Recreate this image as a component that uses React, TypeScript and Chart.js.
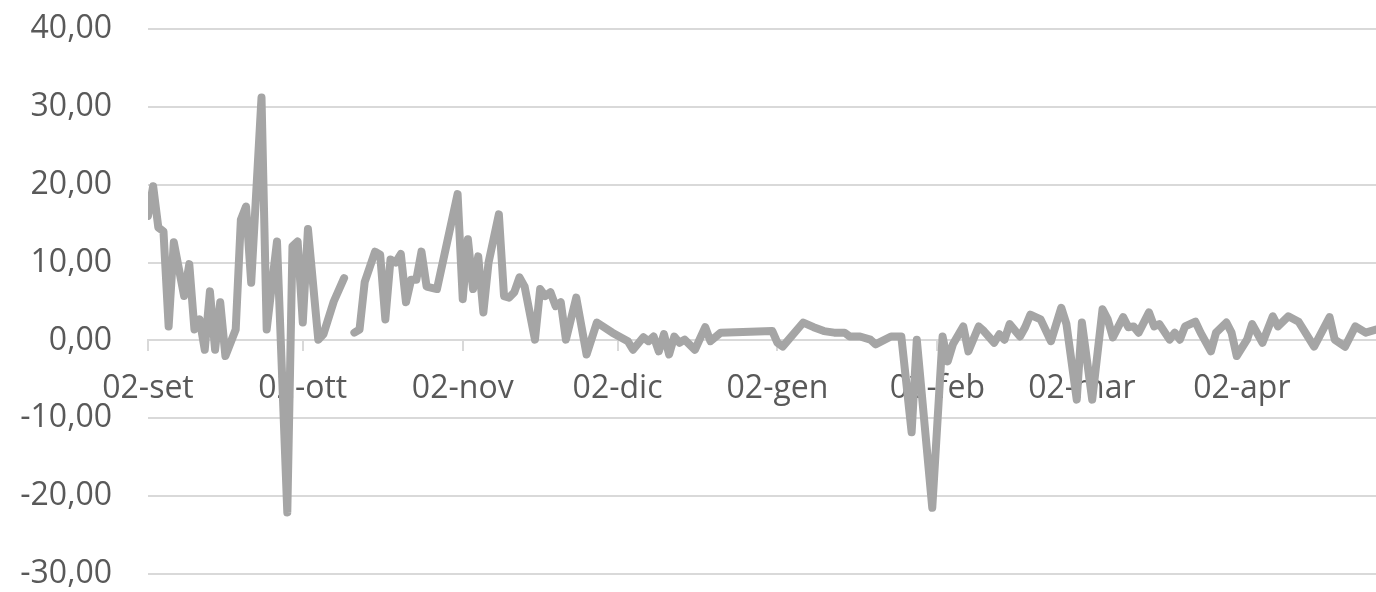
import React, { useEffect, useRef } from "react";
import { Chart, registerables } from "chart.js";

Chart.register(...registerables);

// Day offsets counted from 02-set (day 0)
const dayOffsets: number[] = [
  0, 1, 2, 3, 4, 5, 7, 8, 9, 10, 11, 12, 13, 14, 15, 17, 18, 19, 20, 22, 23, 25, 27, 28, 29, 30, 31, 33, 34, 36, 38, 39,
  40, 41, 42, 44, 45, 46, 47, 48, 49, 50, 51, 52, 53, 54, 56, 60, 61, 62, 63, 64, 65, 66, 68, 69, 70, 71, 72, 73, 75, 76,
  77, 78, 79, 80, 81, 83, 85, 87,
  90, 93, 94, 96, 97, 98, 99, 100, 101, 102, 103, 104, 106, 108, 109, 111, 121, 122, 123, 127, 129, 131, 133, 135, 136,
  138, 140, 141, 144, 146,
  148, 149, 152, 154, 155, 156, 158, 159, 161, 162, 164, 165, 166, 167, 169, 170, 171, 173, 175, 177, 178, 180, 181, 183,
  185, 186, 187, 189, 190, 191, 192, 194, 195, 196, 198, 199, 200, 201, 203, 204, 206, 207, 209, 210, 211, 213, 214, 216,
  218, 219, 221, 223, 226, 229, 230, 232, 234, 236, 238,
];

const values: (number | null)[] = [
  16.0, 19.8, 14.5, 14.0, 1.8, 12.6, 5.7, 9.8, 1.4, 2.7, -1.2, 6.3, -1.2, 4.9, -2.0, 1.4, 15.5, 17.2, 7.4, 31.2, 1.4, 12.7,
  -22.1, 12.1, 12.7, 2.3, 14.3, 0.1, 0.8, 5.0, 8.0, null,
  1.0, 1.4, 7.5, 11.4, 11.0, 2.7, 10.4, 10.0, 11.1, 4.9, 7.8, 7.8, 11.4, 6.9, 6.6, 18.8, 5.3, 13.0, 6.6, 10.8, 3.6, 10.0,
  16.2, 5.7, 5.5, 6.2, 8.1, 6.9, 0.1, 6.6, 5.7, 6.2, 4.4, 4.9, 0.1, 5.5, -1.8, 2.3,
  1.0, -0.1, -1.2, 0.4, -0.1, 0.5, -1.4, 0.8, -1.8, 0.5, -0.3, 0.1, -1.2, 1.7, -0.1, 1.0, 1.2, -0.3, -0.8, 2.3, 1.7, 1.2,
  1.0, 1.0, 0.5, 0.5, 0.1, -0.5, 0.5, 0.5,
  -11.8, 0.1, -21.5, 0.5, -2.7, -0.5, 1.8, -1.4, 1.8, 1.2, -0.3, 0.8, 0.1, 2.1, 0.5, 1.7, 3.3, 2.7, -0.1, 4.2, 2.1, -7.6,
  2.3, -7.6,
  4.0, 2.7, 0.4, 3.0, 1.7, 1.8, 1.0, 3.6, 1.8, 2.1, 0.1, 1.0, 0.1, 1.8, 2.4, 1.0, -1.4, 1.0, 2.3, 1.0, -2.0, 0.1, 2.1,
  -0.3, 3.1, 1.8, 3.1, 2.4, -0.8, 3.0, 0.1, -0.8, 1.8, 1.0, 1.4,
];

const monthTickDays: number[] = [0, 30, 61, 91, 122, 153, 181, 212];
const monthTickLabels: string[] = ["02-set", "02-ott", "02-nov", "02-dic", "02-gen", "02-feb", "02-mar", "02-apr"];

const yMin = -30;
const yMax = 40;
const yStep = 10;
const xMax = 238;

export default function App() {
  const canvasRef = useRef<HTMLCanvasElement | null>(null);

  useEffect(() => {
    if (!canvasRef.current) return;
    const points = dayOffsets.map((d, i) => ({ x: d, y: values[i] }));
    const font = { family: "'Open Sans', sans-serif", size: 32, lineHeight: 1.0 };
    const chart = new Chart(canvasRef.current, {
      type: "line",
      data: {
        datasets: [
          {
            data: points as any,
            borderColor: "#a5a5a5",
            borderWidth: 8,
            pointRadius: 0,
            tension: 0,
            spanGaps: false,
            borderJoinStyle: "round",
            borderCapStyle: "round",
          },
        ],
      },
      options: {
        animation: false,
        responsive: false,
        layout: { padding: { top: 29, bottom: 18, left: 0, right: 0 } },
        plugins: { legend: { display: false }, tooltip: { enabled: false } },
        scales: {
          x: {
            type: "linear",
            min: 0,
            max: xMax,
            position: { y: 0 } as any,
            afterBuildTicks: (scale: any) => {
              scale.ticks = monthTickDays.map((v) => ({ value: v }));
            },
            grid: {
              drawOnChartArea: false,
              drawTicks: true,
              tickLength: 10,
              color: "#d9d9d9",
              lineWidth: 2,
            },
            border: { display: true, color: "#d9d9d9", width: 2 },
            ticks: {
              autoSkip: false,
              maxRotation: 0,
              padding: 22,
              color: "#595959",
              font,
              callback: (_v: any, i: number) => monthTickLabels[i],
            },
          },
          y: {
            type: "linear",
            min: yMin,
            max: yMax,
            afterFit: (scale: any) => {
              scale.width = 148;
            },
            grid: {
              color: "#d9d9d9",
              lineWidth: 2,
              drawTicks: true,
              tickLength: 36,
              tickColor: "rgba(0,0,0,0)",
            },
            border: { display: false },
            ticks: {
              stepSize: yStep,
              padding: 0,
              color: "#595959",
              font,
              callback: (v: any) => Number(v).toFixed(2).replace(".", ","),
            },
          },
        },
      },
    });
    return () => chart.destroy();
  }, []);

  return (
    <div style={{ position: "fixed", left: 0, top: 0, width: 1376, height: 592, background: "#fff" }}>
      <canvas ref={canvasRef} width={1376} height={592} style={{ display: "block" }} />
    </div>
  );
}
